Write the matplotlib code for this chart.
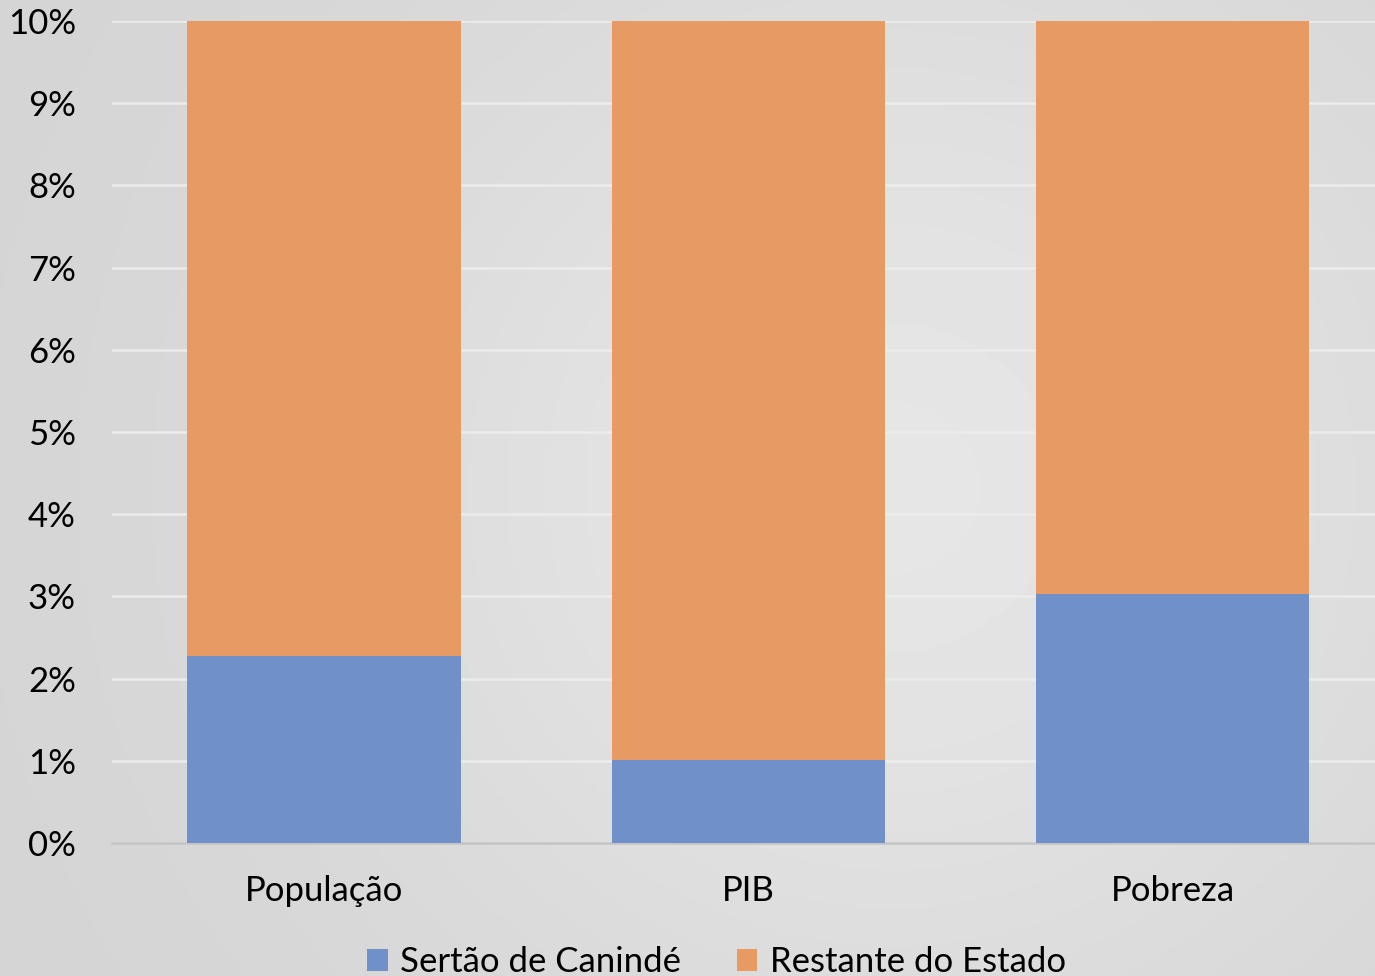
import matplotlib.pyplot as plt
import matplotlib
import numpy as np

matplotlib.rcParams['font.family'] = ['Lato', 'DejaVu Sans']

categorias = ['População', 'PIB', 'Pobreza']
sertao = [2.27, 1.01, 3.03]          # % do estado
restante = [97.73, 98.99, 96.97]     # resto até 100%
rotulos_y = ['0%', '1%', '2%', '3%', '4%', '5%', '6%', '7%', '8%', '9%', '10%']

fig = plt.figure(figsize=(13.75, 9.76), dpi=100)

# fundo cinza com leve gradiente
bg = fig.add_axes([0, 0, 1, 1], zorder=-10)
xx, yy = np.meshgrid(np.linspace(0, 1, 300), np.linspace(0, 1, 300))
val = 0.83 + 0.07 * np.exp(-((xx - 0.65) ** 2 / 0.18 + (yy - 0.5) ** 2 / 0.35))
bg.imshow(val, cmap='gray', vmin=0, vmax=1, aspect='auto', extent=[0, 1, 0, 1])
bg.axis('off')

ax = fig.add_axes([0.0815, 0.1363, 0.9255, 0.8422])
ax.patch.set_alpha(0)

r = np.arange(len(categorias))
ax.bar(r, sertao, width=0.645, color='#7090CA', label='Sertão de Canindé', zorder=3)
ax.bar(r, restante, width=0.645, bottom=sertao, color='#E89A63', label='Restante do Estado', zorder=3)

ax.set_xlim(-0.5, 2.5)
ax.set_ylim(0, 10)
ax.set_yticks(range(11))
ax.set_yticklabels(rotulos_y, fontsize=25)
ax.set_xticks(r)
ax.set_xticklabels(categorias, fontsize=25)
ax.tick_params(axis='both', length=0)
ax.tick_params(axis='x', pad=23)
ax.tick_params(axis='y', pad=26)
ax.grid(axis='y', color='#ececec', linewidth=1.8, zorder=0)
for s in ['top', 'right', 'left']:
    ax.spines[s].set_visible(False)
ax.spines['bottom'].set_color('#c4c4c4')
ax.spines['bottom'].set_linewidth(1.8)

fig.legend(loc='lower center', bbox_to_anchor=(0.521, -0.034), ncol=2, frameon=False,
           fontsize=25, handlelength=0.6, handleheight=0.6, columnspacing=1.6, handletextpad=0.35)

fig.savefig('out.png', dpi=100)
